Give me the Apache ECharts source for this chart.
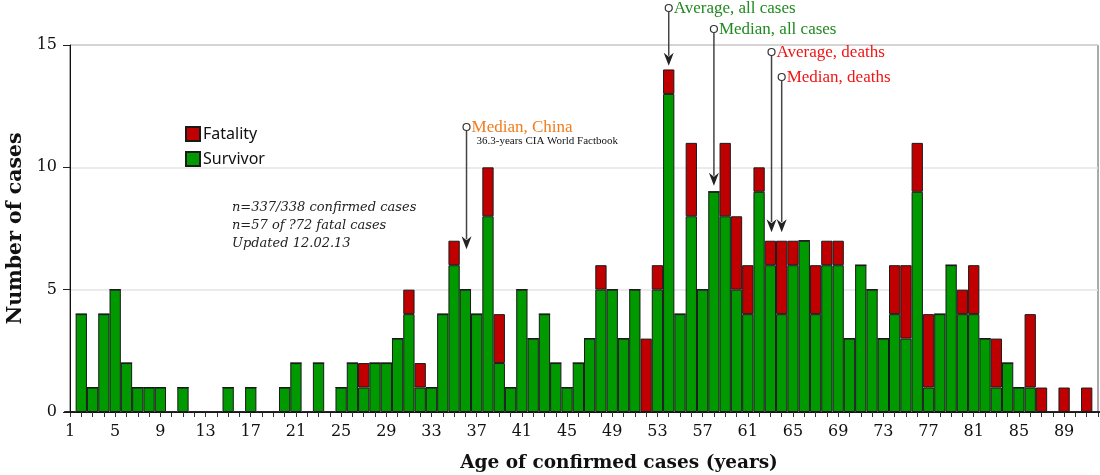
<!DOCTYPE html>
<html>
<head>
<meta charset="utf-8">
<style>
  html, body { margin: 0; padding: 0; background: #fff; }
  #chart { width: 1100px; height: 475px; }
</style>
</head>
<body>
<div id="chart"></div>
<script src="https://cdn.jsdelivr.net/npm/echarts@6/dist/echarts.min.js"></script>
<script>
// ages 1..92 (92 only closes the axis)
var ages = [];
for (var a = 1; a <= 92; a++) ages.push(String(a));

var survivor = [
  0, 4, 1, 4, 5, 2, 1, 1, 1, 0,
  1, 0, 0, 0, 1, 0, 1, 0, 0, 1,
  2, 0, 2, 0, 1, 2, 1, 2, 2, 3,
  4, 1, 1, 4, 6, 5, 4, 8, 2, 1,
  5, 3, 4, 2, 1, 2, 3, 5, 5, 3,
  5, 0, 5, 13, 4, 8, 5, 9, 8, 5,
  4, 9, 6, 4, 6, 7, 4, 6, 6, 3,
  6, 5, 3, 4, 3, 9, 1, 4, 6, 4,
  4, 3, 1, 2, 1, 1, 0, 0, 0, 0,
  0, 0
];
var fatality = [
  0, 0, 0, 0, 0, 0, 0, 0, 0, 0,
  0, 0, 0, 0, 0, 0, 0, 0, 0, 0,
  0, 0, 0, 0, 0, 0, 1, 0, 0, 0,
  1, 1, 0, 0, 1, 0, 0, 2, 2, 0,
  0, 0, 0, 0, 0, 0, 0, 1, 0, 0,
  0, 3, 1, 1, 0, 3, 0, 0, 3, 3,
  2, 1, 1, 3, 1, 0, 2, 1, 1, 0,
  0, 0, 0, 2, 3, 2, 3, 0, 0, 1,
  2, 0, 2, 0, 0, 3, 1, 0, 1, 0,
  1, 0
];

// annotation arrows: label, age where it points, value at arrow tip
var markerLabels = ['Average, all cases', 'Median, all cases', 'Average, deaths', 'Median, deaths', 'Median, China'];
var markerAges = [54.0, 58.0, 63.1, 64.0, 36.1];
var markerTips = [14.15, 9.25, 7.35, 7.35, 6.65];
var markerColors = ['#1f8a1f', '#1f8a1f', '#f01414', '#f01414', '#f07c1c'];
var markerTop = [8, 29, 52, 77, 127];

var noteLines = ['n=337/338 confirmed cases', 'n=57 of ?72 fatal cases', 'Updated 12.02.13'];

var serif = '"DejaVu Serif", "Liberation Serif", serif';
var chart = echarts.init(document.getElementById('chart'));

var option = {
  animation: false,
  grid: {
    left: 70, right: 2, top: 45, bottom: 63,
    containLabel: false, outerBoundsMode: 'none',
    show: true, borderColor: '#555', borderWidth: 1
  },
  legend: {
    data: ['Fatality', 'Survivor'],
    orient: 'vertical',
    left: 185, top: 126, padding: 0,
    itemWidth: 14, itemHeight: 14, itemGap: 9,
    icon: 'rect',
    textStyle: { fontFamily: '"Noto Sans", sans-serif', fontSize: 16, color: '#111', padding: [0, 0, 0, -2] }
  },
  xAxis: {
    type: 'category',
    data: ages,
    boundaryGap: false,
    name: 'Age of confirmed cases (years)',
    nameLocation: 'middle',
    nameGap: 42,
    nameTextStyle: {
      fontFamily: serif, fontWeight: 'bold', fontSize: 18.5, color: '#111',
      padding: [0, 0, 0, 70]
    },
    axisLine: { lineStyle: { color: '#111', width: 1 } },
    axisTick: { interval: 0, length: 5, lineStyle: { color: '#333' } },
    axisLabel: { interval: 3, margin: 12, fontFamily: serif, fontSize: 16, color: '#111' },
    splitLine: { show: false }
  },
  yAxis: {
    type: 'value',
    min: 0, max: 15, interval: 5,
    name: 'Number of cases',
    nameLocation: 'middle',
    nameGap: 40,
    nameTextStyle: { fontFamily: serif, fontWeight: 'bold', fontSize: 20.5, color: '#111' },
    axisLine: { show: true, lineStyle: { color: '#111', width: 1 } },
    axisTick: { show: true, length: 7, lineStyle: { color: '#222' } },
    axisLabel: { margin: 13, fontFamily: serif, fontSize: 16, color: '#111' },
    splitLine: { lineStyle: { color: '#e4e4e4', width: 1.5 } }
  },
  series: [
    {
      name: 'Survivor', type: 'bar', stack: 'cases',
      barCategoryGap: '0%',
      itemStyle: { color: '#009900', borderColor: '#1a1a1a', borderWidth: 1 },
      data: survivor
    },
    {
      name: 'Fatality', type: 'bar', stack: 'cases',
      barCategoryGap: '0%',
      itemStyle: { color: '#c00000', borderColor: '#1a1a1a', borderWidth: 1 },
      data: fatality
    }
  ]
};
chart.setOption(option);

// annotations placed through the axes
function buildGraphics() {
  var x0 = chart.convertToPixel({ xAxisIndex: 0 }, 0);
  var x1 = chart.convertToPixel({ xAxisIndex: 0 }, 1);
  var step = x1 - x0;
  var g = [];
  markerLabels.forEach(function (label, i) {
    var x = x0 + (markerAges[i] - 1) * step;
    var cy = markerTop[i];
    var tip = chart.convertToPixel({ yAxisIndex: 0 }, markerTips[i]);
    g.push({
      type: 'line', z: 50,
      shape: { x1: x, y1: cy + 3.5, x2: x, y2: tip - 10 },
      style: { stroke: '#444', lineWidth: 1.5 }
    });
    g.push({
      type: 'polygon', z: 51,
      shape: { points: [[x - 5, tip - 13], [x, tip - 9], [x + 5, tip - 13], [x, tip]] },
      style: { fill: '#222' }
    });
    g.push({
      type: 'circle', z: 52,
      shape: { cx: x, cy: cy, r: 3.5 },
      style: { fill: '#fff', stroke: '#333', lineWidth: 1.2 }
    });
    g.push({
      type: 'text', z: 52,
      x: x + 5, y: cy + 1,
      style: {
        text: label, fill: markerColors[i],
        font: '17px "Liberation Serif", serif',
        verticalAlign: 'middle', align: 'left'
      }
    });
  });
  // subtitle under the China marker
  var xc = x0 + (markerAges[4] - 1) * step;
  g.push({
    type: 'text', z: 52,
    x: xc + 10, y: 141,
    style: {
      text: '36.3-years CIA World Factbook', fill: '#111',
      font: '11px "Liberation Serif", serif',
      verticalAlign: 'middle', align: 'left'
    }
  });
  g.push({
    type: 'text', z: 52,
    x: 232, y: 199,
    style: {
      text: noteLines.join('\n'), fill: '#222',
      font: 'italic 13px "DejaVu Serif", serif',
      lineHeight: 18, verticalAlign: 'top', align: 'left'
    }
  });
  return g;
}
chart.setOption({ graphic: buildGraphics() });
</script>
</body>
</html>
